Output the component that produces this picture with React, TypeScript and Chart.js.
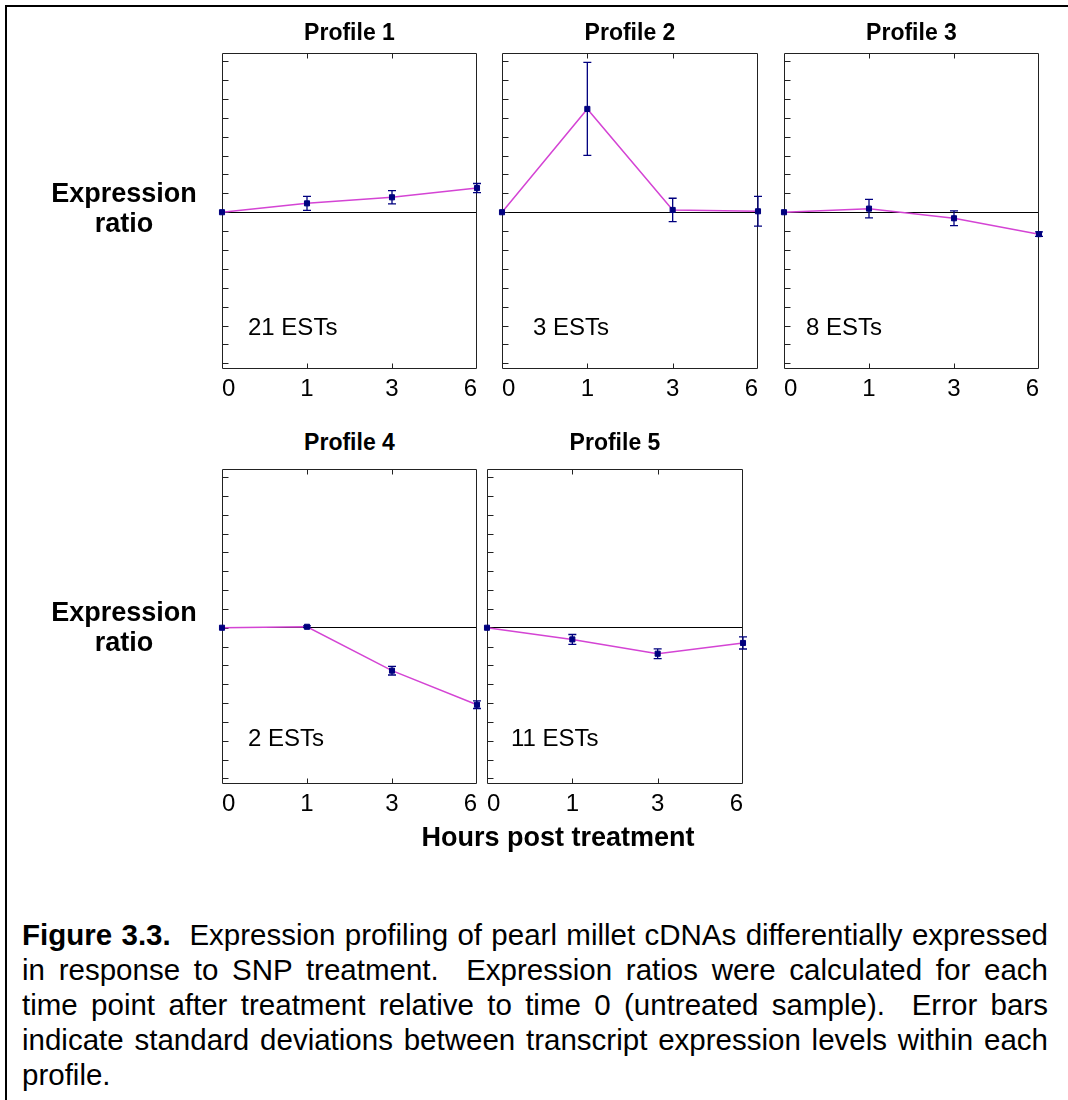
import React, { useEffect, useRef } from 'react';
import { Chart, registerables } from 'chart.js';

Chart.register(...registerables);

// ---------- data ----------
const hours = ['0', '1', '3', '6'];
const profileTitles = ['Profile 1', 'Profile 2', 'Profile 3', 'Profile 4', 'Profile 5'];
const estLabels = ['21 ESTs', '3 ESTs', '8 ESTs', '2 ESTs', '11 ESTs'];

// expression ratio (in axis tick steps, 0 = untreated)
const profile1 = [0, 0.47, 0.79, 1.28];
const error1 = [0, 0.37, 0.35, 0.24];
const profile2 = [0, 5.47, 0.12, 0.05];
const error2 = [0, 2.46, 0.62, 0.79];
const profile3 = [0, 0.19, -0.32, -1.16];
const error3 = [0, 0.49, 0.39, 0.12];
const profile4 = [0, 0.05, -2.28, -4.09];
const error4 = [0, 0.05, 0.23, 0.2];
const profile5 = [0, -0.62, -1.38, -0.81];
const error5 = [0, 0.26, 0.26, 0.32];

const Y_MIN = -8.3;
const Y_MAX = 8.43;
const Y_STEP = 1;

// ---------- layout ----------
const FONT = "'Liberation Sans', Arial, Helvetica, sans-serif";
const LINE_COLOR = '#d444d4';
const MARK_COLOR = '#00007f';
const PAD_L = 20;
const PAD_R = 20;
const PAD_T = 10;
const PAD_B = 40;

const panels = [
  { values: profile1, errors: error1, left: 222, top: 53, w: 255, h: 316, titleY: 32, estX: 248, estY: 327 },
  { values: profile2, errors: error2, left: 502, top: 53, w: 256, h: 316, titleY: 32, estX: 533, estY: 327 },
  { values: profile3, errors: error3, left: 784, top: 53, w: 255, h: 316, titleY: 32, estX: 806, estY: 327 },
  { values: profile4, errors: error4, left: 222, top: 469, w: 255, h: 315, titleY: 442, estX: 248, estY: 738 },
  { values: profile5, errors: error5, left: 487, top: 469, w: 256, h: 315, titleY: 442, estX: 511, estY: 738 },
];

const framePlugin = {
  id: 'frame',
  beforeDatasetsDraw(chart: any) {
    const { ctx, chartArea: a, scales } = chart;
    const L = Math.round(a.left) + 0.5;
    const R = Math.round(a.right) - 0.5;
    const T = Math.round(a.top) + 0.5;
    const B = Math.round(a.bottom) - 0.5;
    ctx.save();
    ctx.strokeStyle = '#222';
    ctx.lineWidth = 1;
    ctx.beginPath();
    ctx.rect(L, T, R - L, B - T);
    ctx.stroke();
    // inward y ticks
    ctx.beginPath();
    scales.y.ticks.forEach((t: any) => {
      const y = Math.round(scales.y.getPixelForValue(t.value)) + 0.5;
      ctx.moveTo(L, y);
      ctx.lineTo(L + 6, y);
    });
    // inward x ticks at the interior categories
    for (let i = 1; i < hours.length - 1; i++) {
      const x = Math.round(scales.x.getPixelForValue(i)) + 0.5;
      ctx.moveTo(x, T);
      ctx.lineTo(x, T + 5);
      ctx.moveTo(x, B);
      ctx.lineTo(x, B - 5);
    }
    ctx.stroke();
    ctx.restore();
  },
};

const errorBarPlugin = {
  id: 'errorBars',
  afterDatasetsDraw(chart: any, _args: any, opts: any) {
    const { ctx, scales } = chart;
    const vals = chart.data.datasets[0].data as number[];
    const errs = (opts && opts.errors) || [];
    ctx.save();
    ctx.strokeStyle = MARK_COLOR;
    ctx.lineWidth = 1.3;
    ctx.beginPath();
    vals.forEach((v, i) => {
      const e = errs[i];
      if (!e) return;
      const x = scales.x.getPixelForValue(i);
      const yt = scales.y.getPixelForValue(v + e);
      const yb = scales.y.getPixelForValue(v - e);
      ctx.moveTo(x, yt);
      ctx.lineTo(x, yb);
      ctx.moveTo(x - 4, yt);
      ctx.lineTo(x + 4, yt);
      ctx.moveTo(x - 4, yb);
      ctx.lineTo(x + 4, yb);
    });
    ctx.stroke();
    ctx.restore();
  },
};

function Panel({ p }: { p: any }) {
  const ref = useRef<HTMLCanvasElement>(null);
  const cw = p.w + PAD_L + PAD_R;
  const ch = p.h + PAD_T + PAD_B;
  useEffect(() => {
    if (!ref.current) return;
    const chart = new Chart(ref.current, {
      type: 'line',
      data: {
        labels: hours,
        datasets: [
          {
            data: p.values,
            borderColor: LINE_COLOR,
            borderWidth: 1.5,
            pointStyle: 'rect',
            pointRadius: 3.6,
            pointBackgroundColor: MARK_COLOR,
            pointBorderColor: MARK_COLOR,
            pointBorderWidth: 1,
            tension: 0,
            clip: false,
          } as any,
        ],
      },
      options: {
        animation: false,
        responsive: false,
        devicePixelRatio: 1,
        layout: { padding: { left: PAD_L, right: PAD_R, top: PAD_T, bottom: 0 } },
        plugins: {
          legend: { display: false },
          tooltip: { enabled: false },
          title: { display: false },
          errorBars: { errors: p.errors },
        } as any,
        scales: {
          x: {
            type: 'category',
            offset: false,
            grid: { display: false, drawTicks: false },
            border: { display: false },
            ticks: {
              color: '#000',
              font: { size: 24, family: FONT },
              padding: 6,
              maxRotation: 0,
              autoSkip: false,
              align: 'inner',
            },
            afterFit: (s: any) => {
              s.height = PAD_B;
            },
          },
          y: {
            type: 'linear',
            min: Y_MIN,
            max: Y_MAX,
            grid: {
              drawTicks: false,
              color: (c: any) => (c.tick && c.tick.value === 0 ? '#000' : 'rgba(0,0,0,0)'),
              lineWidth: 1,
            },
            border: { display: false },
            ticks: { display: false, stepSize: Y_STEP, includeBounds: false },
            afterFit: (s: any) => {
              s.width = 0;
            },
          },
        } as any,
      },
      plugins: [framePlugin, errorBarPlugin],
    });
    return () => chart.destroy();
  }, []);
  return (
    <canvas
      ref={ref}
      width={cw}
      height={ch}
      style={{ position: 'absolute', left: p.left - PAD_L, top: p.top - PAD_T, width: cw, height: ch }}
    />
  );
}

export default function App() {
  return (
    <div
      style={{
        position: 'absolute',
        left: 0,
        top: 0,
        width: 1068,
        height: 1100,
        overflow: 'hidden',
        background: '#fff',
        fontFamily: FONT,
        color: '#000',
      }}
    >
      <div
        style={{
          position: 'absolute',
          left: 5,
          top: 5,
          width: 1063,
          height: 1095,
          borderTop: '2px solid #000',
          borderLeft: '2px solid #000',
        }}
      />
      {panels.map((p, i) => (
        <React.Fragment key={i}>
          <Panel p={p} />
          <div
            style={{
              position: 'absolute',
              left: p.left,
              width: p.w,
              top: p.titleY - 13,
              lineHeight: '26px',
              fontSize: 23,
              fontWeight: 'bold',
              textAlign: 'center',
              whiteSpace: 'nowrap',
            }}
          >
            {profileTitles[i]}
          </div>
          <div
            style={{
              position: 'absolute',
              left: p.estX,
              top: p.estY - 14,
              lineHeight: '28px',
              fontSize: 24,
              whiteSpace: 'nowrap',
            }}
          >
            {estLabels[i]}
          </div>
        </React.Fragment>
      ))}
      {[178, 597].map((t, i) => (
        <div
          key={'yl' + i}
          style={{
            position: 'absolute',
            left: 24,
            width: 200,
            top: t,
            lineHeight: '30px',
            fontSize: 27,
            fontWeight: 'bold',
            textAlign: 'center',
          }}
        >
          Expression
          <br />
          ratio
        </div>
      ))}
      <div
        style={{
          position: 'absolute',
          left: 358,
          width: 400,
          top: 822,
          lineHeight: '30px',
          fontSize: 27,
          fontWeight: 'bold',
          textAlign: 'center',
        }}
      >
        Hours post treatment
      </div>
      <div
        style={{
          position: 'absolute',
          left: 22,
          width: 1026,
          top: 917,
          lineHeight: '35px',
          fontSize: 29.5,
          textAlign: 'justify',
        }}
      >
        <b>Figure 3.3.</b>{'\u00a0 '}Expression profiling of pearl millet cDNAs differentially expressed in response to SNP
        treatment.{'\u00a0 '}Expression ratios were calculated for each time point after treatment relative to time 0
        (untreated sample).{'\u00a0 '}Error bars indicate standard deviations between transcript expression levels within
        each profile.
      </div>
    </div>
  );
}
